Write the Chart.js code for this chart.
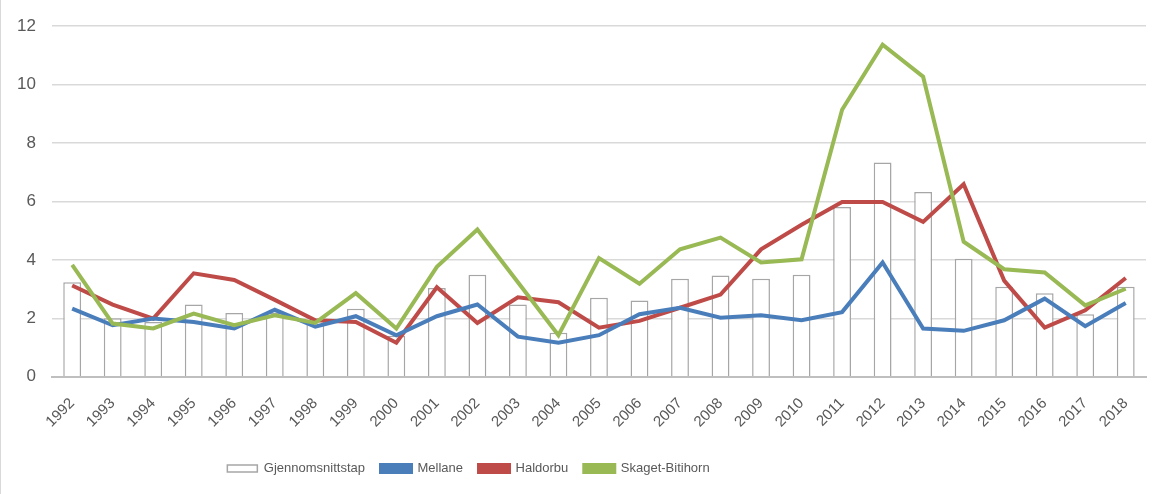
<!DOCTYPE html>
<html>
<head>
<meta charset="utf-8">
<script src="https://cdn.jsdelivr.net/npm/chart.js@4"></script>
<style>
body{margin:0;background:#fff;}
#wrap{width:1151px;height:494px;border-left:1px solid #d9d9d9;}
</style>
</head>
<body>
<div id="wrap"><canvas id="lossChart"></canvas></div>
<script>
const years = ['1992','1993','1994','1995','1996','1997','1998','1999','2000','2001','2002','2003','2004','2005','2006','2007','2008','2009','2010','2011','2012','2013','2014','2015','2016','2017','2018'];

const snittTap = [3.23,2.0,1.87,2.47,2.18,2.2,1.93,2.33,1.4,3.04,3.49,2.47,1.5,2.7,2.61,3.35,3.46,3.35,3.49,5.81,7.33,6.32,4.04,3.08,2.86,2.14,3.08];
const mellane = [2.33,1.76,1.99,1.87,1.65,2.29,1.71,2.07,1.42,2.07,2.47,1.37,1.16,1.42,2.14,2.36,2.02,2.1,1.93,2.21,3.91,1.65,1.57,1.93,2.67,1.73,2.52];
const haldorbu = [3.12,2.47,1.99,3.54,3.31,2.63,1.93,1.87,1.16,3.06,1.84,2.72,2.55,1.68,1.91,2.36,2.81,4.36,5.2,5.98,5.98,5.3,6.59,3.29,1.68,2.27,3.38];
const skaget = [3.83,1.82,1.65,2.16,1.76,2.1,1.84,2.86,1.65,3.76,5.04,3.23,1.42,4.06,3.18,4.36,4.76,3.91,4.02,9.14,11.37,10.27,4.62,3.68,3.57,2.44,3.01];

const yTicks = [0,2,4,6,8,10,12];

const txt = '#595959';
const fam = 'Liberation Sans Narrow, Liberation Sans, Arial';
const ctx = document.getElementById('lossChart');

// legend sits left of centre and a bit lower in the original
const legendShift = {
  id: 'legendShift',
  afterLayout(chart) {
    chart.legend.left -= 105;
    chart.legend.right -= 105;
    chart.legend.top += 5;
    chart.legend.bottom += 5;
  }
};

new Chart(ctx, {
  data: {
    labels: years,
    datasets: [
      {
        type: 'bar',
        label: 'Gjennomsnittstap',
        data: snittTap,
        backgroundColor: '#ffffff',
        borderColor: '#a6a6a6',
        borderWidth: 1.5,
        barPercentage: 1,
        categoryPercentage: 0.44,
        order: 5
      },
      {
        type: 'line',
        label: 'Mellane',
        data: mellane,
        borderColor: '#4a7ebb',
        backgroundColor: '#4a7ebb',
        borderWidth: 4,
        pointRadius: 0,
        tension: 0,
        order: 1
      },
      {
        type: 'line',
        label: 'Haldorbu',
        data: haldorbu,
        borderColor: '#be4b48',
        backgroundColor: '#be4b48',
        borderWidth: 4,
        pointRadius: 0,
        tension: 0,
        order: 2
      },
      {
        type: 'line',
        label: 'Skaget-Bitihorn',
        data: skaget,
        borderColor: '#98b954',
        backgroundColor: '#98b954',
        borderWidth: 4,
        pointRadius: 0,
        tension: 0,
        order: 0
      }
    ]
  },
  options: {
    responsive: true,
    maintainAspectRatio: false,
    animation: false,
    layout: { padding: { left: 0, right: 6, top: 4, bottom: 14 } },
    plugins: {
      legend: {
        position: 'bottom',
        labels: {
          color: txt,
          font: { family: fam, size: 13 },
          boxWidth: 30,
          boxHeight: 7,
          padding: 16,
          sort: (a, b) => a.datasetIndex - b.datasetIndex
        }
      },
      tooltip: { enabled: false }
    },
    scales: {
      x: {
        grid: { display: false },
        border: { color: '#bfbfbf', width: 2 },
        ticks: {
          color: txt,
          minRotation: 45,
          maxRotation: 45,
          padding: 10,
          font: { family: fam, size: 15 }
        }
      },
      y: {
        min: 0,
        max: 12,
        afterBuildTicks: axis => { axis.ticks = yTicks.map(v => ({ value: v })); },
        grid: { color: '#d9d9d9', lineWidth: 1.5, drawTicks: false },
        border: { display: false },
        ticks: {
          color: txt,
          padding: 16,
          font: { family: fam, size: 17 }
        }
      }
    }
  },
  plugins: [legendShift]
});
</script>
</body>
</html>
